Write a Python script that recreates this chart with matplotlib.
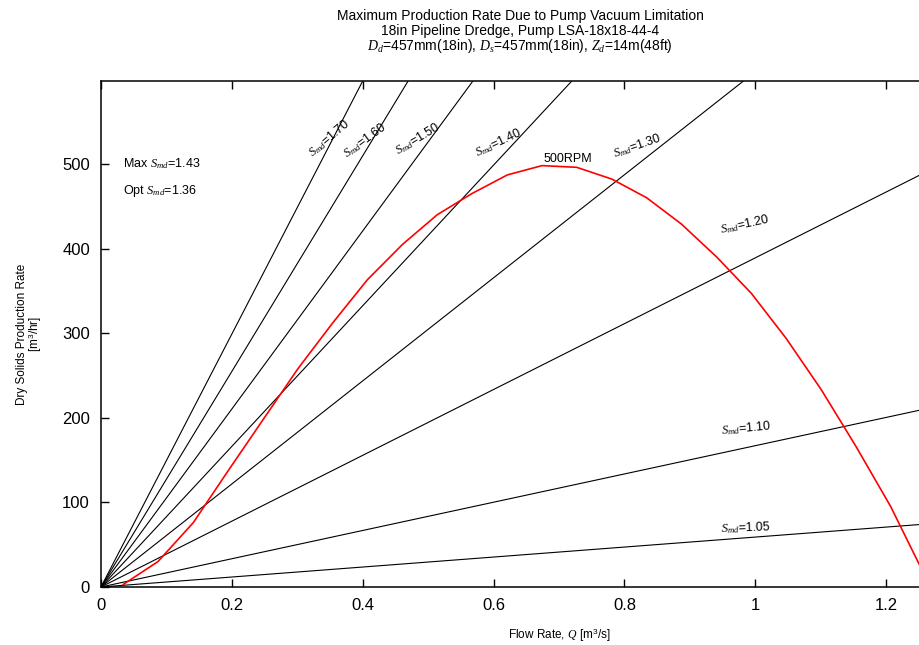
import numpy as np
import matplotlib
matplotlib.use("Agg")
import matplotlib.pyplot as plt

plt.rcParams['font.family'] = ['Liberation Sans', 'DejaVu Sans']
plt.rcParams['mathtext.fontset'] = 'custom'
plt.rcParams['mathtext.rm'] = 'Liberation Sans'
plt.rcParams['mathtext.it'] = 'Liberation Serif:italic'

# pump curve at 500 RPM
flow_q = [0.034, 0.087, 0.141, 0.194, 0.247, 0.301, 0.354, 0.407, 0.461, 0.514,
          0.567, 0.621, 0.674, 0.727, 0.781, 0.834, 0.887, 0.941, 0.994, 1.047,
          1.101, 1.154, 1.207, 1.260]
production = [3, 30, 76, 137, 197, 258, 312, 363, 405, 440,
              465, 487, 498, 496, 482, 460, 429, 390, 347, 294,
              233, 166, 95, 12]

# constant mixture density lines: production rate at Q = 1 m3/s
smd_values = [1.05, 1.10, 1.20, 1.30, 1.40, 1.50, 1.60, 1.70]
rate_at_q1 = [59, 167, 389, 609, 831, 1052, 1274, 1495]
smd_label_pos = [(0.986, 70), (0.986, 188), (0.985, 429), (0.82, 521),
                 (0.607, 525), (0.485, 530), (0.404, 528), (0.349, 531)]

fig = plt.figure(figsize=(9.2, 6.45), dpi=100)
ax = fig.add_axes([101 / 920, 58 / 645, 916 / 920, 506 / 645])
ax.set_xlim(0, 1.4)
ax.set_ylim(0, 598)

q_line = np.array([0, 1.4])
for smd, r in zip(smd_values, rate_at_q1):
    ax.plot(q_line, r * q_line, color='black', lw=0.8)

ax.plot(flow_q, production, color='red', lw=1.2)

# labels are tilted less than the lines themselves
fig.canvas.draw()
for smd, r, (lx, ly) in zip(smd_values, rate_at_q1, smd_label_pos):
    p0 = ax.transData.transform((0, 0))
    p1 = ax.transData.transform((1, r))
    ang = np.degrees(np.arctan(0.44 * (p1[1] - p0[1]) / (p1[0] - p0[0])))
    ax.text(lx, ly, r'$S_{md}$=%.2f' % smd, rotation=ang, rotation_mode='anchor',
            ha='center', va='center', fontsize=9)

ax.text(0.034, 500, r'Max $S_{md}$=1.43', fontsize=9, va='center')
ax.text(0.034, 468, r'Opt $S_{md}$=1.36', fontsize=9, va='center')
ax.text(0.713, 506, '500RPM', fontsize=9, ha='center', va='center')

ax.set_xticks([0, 0.2, 0.4, 0.6, 0.8, 1, 1.2])
ax.set_xticklabels(['0', '0.2', '0.4', '0.6', '0.8', '1', '1.2'])
ax.set_yticks([0, 100, 200, 300, 400, 500])
ax.tick_params(direction='in', length=6, width=1, labelsize=12,
               top=True, right=True, pad=8)
for s in ax.spines.values():
    s.set_linewidth(1.1)

ax.set_xlabel(r'Flow Rate, $Q$ [m$^3$/s]', fontsize=8.5, labelpad=10)
ax.set_ylabel('Dry Solids Production Rate\n[m$^3$/hr]', fontsize=8.5,
              labelpad=13, linespacing=0.9)

fig.text(520 / 920, 1 - 16 / 645,
         'Maximum Production Rate Due to Pump Vacuum Limitation',
         ha='center', va='center', fontsize=10)
fig.text(520 / 920, 1 - 31 / 645, '18in Pipeline Dredge, Pump LSA-18x18-44-4',
         ha='center', va='center', fontsize=10)
fig.text(520 / 920, 1 - 46 / 645,
         r'$D_d$=457mm(18in), $D_s$=457mm(18in), $Z_d$=14m(48ft)',
         ha='center', va='center', fontsize=10)

fig.savefig('out.png', dpi=100)
